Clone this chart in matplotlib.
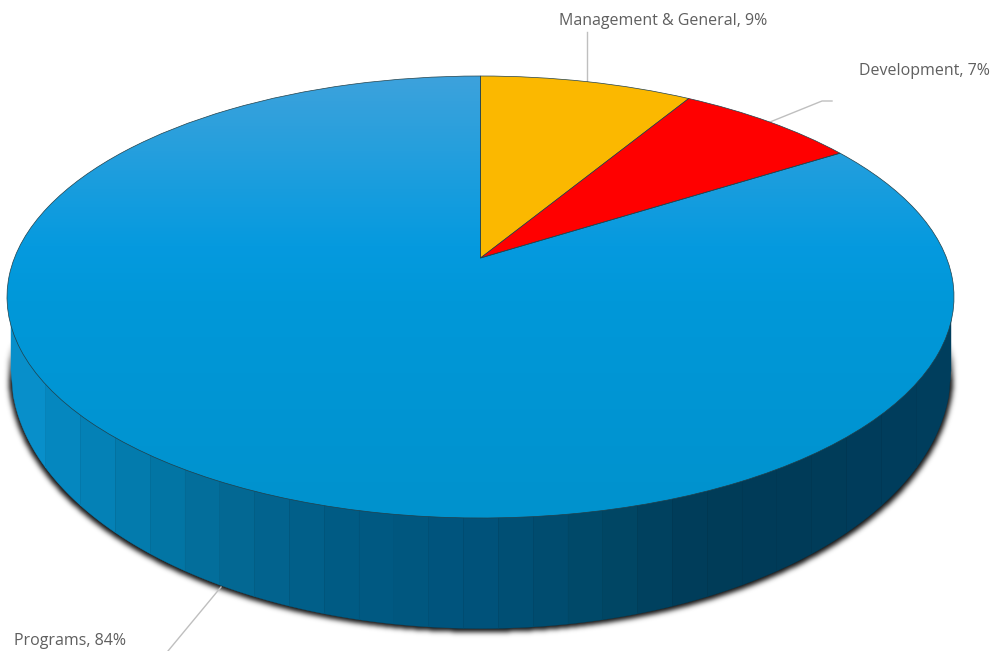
import numpy as np
import matplotlib
matplotlib.use("Agg")
import matplotlib.pyplot as plt
from matplotlib.colors import to_rgb
from matplotlib.transforms import Transform

# ---- data ----
categories = ["Management & General", "Development", "Programs"]
shares = [8.6, 7.4, 84.0]
slice_colors = ["#FBB800", "#FF0000", "none"]

# ---- geometry (pixels) ----
W, H = 994, 651
APEX = (480.5, 258.0)
TOP_Y, BOT_Y = 76.0, 518.0
RX = 473.5
CY = (TOP_Y + BOT_Y) / 2
RY = (BOT_Y - TOP_Y) / 2
up, down = APEX[1] - TOP_Y, BOT_Y - APEX[1]
P = (down - up) / (down + up)
B = up * (1 + P)
A = RX * np.sqrt(1 - P * P)
# bottom rim of the wall
LOW_CX, LOW_CY, LOW_RX, LOW_RY = 480.5, 370.0, 470.0, 258.0

# ---- colours ----
face_y = [76, 150, 245, 300, 518]
face_c = ["#3DA2DC", "#259FDD", "#059ADF", "#0098D9", "#0092CD"]
wall_x = [10, 50, 150, 220, 330, 480, 600, 700, 800, 950]
wall_c = ["#0A94D0", "#0689C2", "#0278A9", "#036A96", "#005C85", "#00527A",
          "#004867", "#003C58", "#003B58", "#003E5E"]


class Perspective(Transform):
    input_dims = output_dims = 2
    has_inverse = False
    is_separable = False

    def transform_non_affine(self, xy):
        xy = np.asarray(xy, float)
        d = 1 + P * xy[:, 1]
        return np.column_stack([APEX[0] + A * xy[:, 0] / d,
                                APEX[1] - B * xy[:, 1] / d])


fig = plt.figure(figsize=(W / 100, H / 100), dpi=100, facecolor="white")
ax = fig.add_axes([0, 0, 1, 1])

# pie in unit-circle coordinates, then projected in perspective
wedges, _ = ax.pie(shares, colors=["white"] * 3, startangle=90, counterclock=False,
                   wedgeprops=dict(linewidth=0.5, edgecolor="#21404A"))
persp = Perspective() + ax.transData
for w, c in zip(wedges, slice_colors):
    w.set_transform(persp)
    w.set_facecolor(c)
    w.set_zorder(5)

# blurred shadow under the wall
yy, xx = np.mgrid[0:H, 0:W]
mask = (((xx - LOW_CX) / (LOW_RX + 2.5)) ** 2 + ((yy - LOW_CY - 3.5) / LOW_RY) ** 2 <= 1).astype(float)
sigma = 2.6
kx = np.arange(-9, 10)
kern = np.exp(-kx ** 2 / (2 * sigma ** 2))
kern /= kern.sum()
mask = np.apply_along_axis(lambda r: np.convolve(r, kern, mode="same"), 1, mask)
mask = np.apply_along_axis(lambda r: np.convolve(r, kern, mode="same"), 0, mask)
shadow = np.zeros((H, W, 4))
shadow[..., 3] = mask * 0.95 * np.clip((yy - 340) / 40, 0, 1)
ax.imshow(shadow, extent=(0, W, H, 0), aspect="auto", zorder=1, interpolation="bilinear")

# banded side wall
edges = np.linspace(LOW_CX - LOW_RX, LOW_CX + LOW_RX, 28)
wall_rgb = np.array([to_rgb(c) for c in wall_c])
for x0, x1 in zip(edges[:-1], edges[1:]):
    xs = np.linspace(x0, x1, 16)
    low = LOW_CY + LOW_RY * np.sqrt(np.clip(1 - ((xs - LOW_CX) / LOW_RX) ** 2, 0, 1))
    col = [np.interp((x0 + x1) / 2, wall_x, wall_rgb[:, i]) for i in range(3)]
    ax.fill_between(xs, CY, low, color=col, lw=0.3, zorder=2)

# gradient top face, clipped to the Programs wedge
rows = np.arange(H)
face_rgb = np.array([to_rgb(c) for c in face_c])
grad = np.stack([np.interp(rows, face_y, face_rgb[:, i]) for i in range(3)], axis=1)[:, None, :]
im = ax.imshow(grad, extent=(0, W, H, 0), aspect="auto", zorder=4)
im.set_clip_path(wedges[2])

# leader lines
line_c = "#BFBFBF"
ax.plot([587, 587], [32, 82], color=line_c, lw=1.0, zorder=3)
ax.plot([770, 822, 832], [122, 101, 101], color=line_c, lw=1.0, zorder=3)
ax.plot([221, 168], [587, 651], color=line_c, lw=1.0, zorder=3)

# labels
txt = dict(color="#5F5F5F", fontsize=11.5, family="Open Sans", va="center", ha="left", zorder=6)
ax.text(559, 21, f"{categories[0]}, {shares[0]:.0f}%", **txt)
ax.text(859, 71, f"{categories[1]}, {shares[1]:.0f}%", **txt)
ax.text(14, 641, f"{categories[2]}, {shares[2]:.0f}%", **txt)

ax.set_aspect("auto")
ax.set_xlim(0, W)
ax.set_ylim(H, 0)
ax.axis("off")
fig.savefig("out.png", dpi=100)
